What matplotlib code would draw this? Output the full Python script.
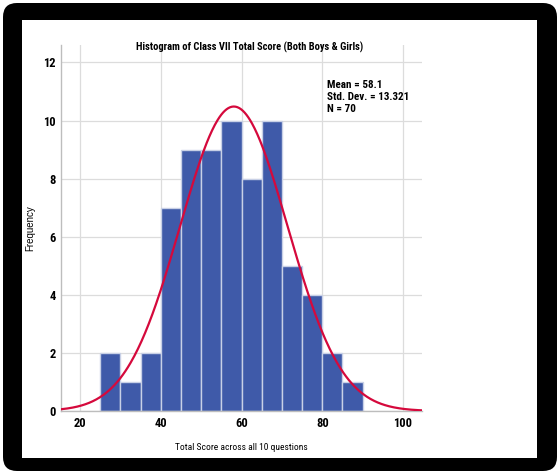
import numpy as np
import matplotlib.pyplot as plt
from matplotlib.patches import FancyBboxPatch, Rectangle

# Data
bin_edges = [25, 30, 35, 40, 45, 50, 55, 60, 65, 70, 75, 80, 85, 90]
counts = [2, 1, 2, 7, 9, 9, 10, 8, 10, 5, 4, 2, 1]
mean = 58.1
std = 13.321
n = 70
x_ticks = [20, 40, 60, 80, 100]
y_ticks = [0, 2, 4, 6, 8, 10, 12]

plt.rcParams['font.family'] = ['Roboto Condensed', 'PT Sans Narrow', 'Liberation Sans', 'DejaVu Sans']

fig = plt.figure(figsize=(5.57, 4.74), dpi=100)
fig.patch.set_facecolor('white')

# black rounded frame with white inner panel, drawn in a background axes
bg = fig.add_axes([0, 0, 1, 1], zorder=-1)
bg.set_axis_off()
bg.set_xlim(0, 557)
bg.set_ylim(474, 0)
bg.add_patch(FancyBboxPatch((3, 3), 554, 468, boxstyle='round,pad=0,rounding_size=14',
                            facecolor='black', edgecolor='none'))
bg.add_patch(Rectangle((22, 20), 515, 438, facecolor='white', edgecolor='none'))

ax = fig.add_axes([61 / 557, 63 / 474, 361 / 557, 366 / 474])
ax.set_facecolor('none')

widths = np.diff(bin_edges)
ax.bar(bin_edges[:-1], counts, width=widths, align='edge', color='#3f5aa9',
       edgecolor='#c8d0e6', linewidth=1.0, zorder=2)

xs = np.linspace(15.3, 104.7, 400)
ys = n * 5 / (std * np.sqrt(2 * np.pi)) * np.exp(-0.5 * ((xs - mean) / std) ** 2)
ax.plot(xs, ys, color='#d5093c', linewidth=1.6, zorder=3)

ax.set_xlim(15.3, 104.7)
ax.set_ylim(0, 12.6)
ax.set_xticks(x_ticks)
ax.set_yticks(y_ticks)
ax.grid(True, color='#dcdcdc', linewidth=0.9, zorder=0)
ax.set_axisbelow(True)
for s in ['top', 'right']:
    ax.spines[s].set_visible(False)
for s in ['left', 'bottom']:
    ax.spines[s].set_color('#bdbdbd')
    ax.spines[s].set_linewidth(1.0)
ax.tick_params(length=0, labelsize=9, pad=4)
for lab in ax.get_xticklabels() + ax.get_yticklabels():
    lab.set_fontweight('bold')

ax.set_xlabel('Total Score across all 10 questions', fontsize=6.8)
ax.xaxis.set_label_coords(0.5, -0.087)
ax.set_ylabel('Frequency', fontsize=7, family=['Liberation Sans', 'DejaVu Sans'])
ax.yaxis.set_label_coords(-0.072, 0.5)

fig.text(250 / 557, 1 - 47 / 474, 'Histogram of Class VII Total Score (Both Boys & Girls)',
         fontsize=7.6, fontweight='bold', ha='center', va='center')

fig.text(327 / 557, 1 - 80 / 474, f'Mean = {mean}\nStd. Dev. = {std}\nN = {n}',
         fontsize=8, fontweight='bold', va='top', ha='left', linespacing=1.25)

fig.savefig('out.png', dpi=100)
